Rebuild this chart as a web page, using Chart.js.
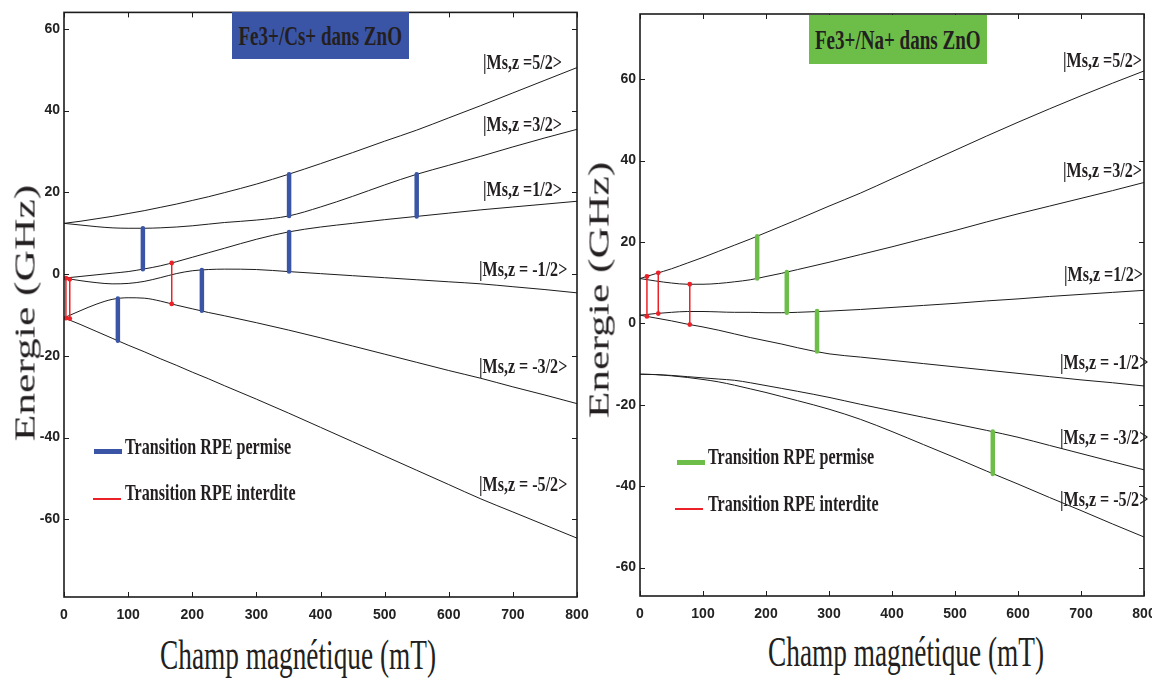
<!DOCTYPE html>
<html>
<head>
<meta charset="utf-8">
<script src="https://cdn.jsdelivr.net/npm/chart.js@4.4.0/dist/chart.umd.min.js"></script>
<style>
  html, body { margin:0; padding:0; background:#fff; width:1152px; height:679px; overflow:hidden; position:relative; }
  canvas { position:absolute; top:0; }
  #cvCs { left:0; }
  #cvNa { left:580px; }
  .serif { position:absolute; font-family:'Liberation Serif','Times New Roman',serif; color:#231f20; white-space:nowrap; }
  .lvl { font-weight:bold; font-size:22px; transform-origin:0 50%; transform:translateY(-50%) scaleX(0.73); }
  .leg { font-weight:bold; font-size:23px; transform-origin:0 50%; transform:translateY(-50%) scaleX(0.70); }
  .ytitle { font-size:29px; transform:translate(-50%,-50%) rotate(-90deg) scaleX(1.5); }
  .xtitle { font-size:42px; transform:translate(-50%,-50%) scaleX(0.65); }
  .tbox { position:absolute; display:flex; align-items:center; justify-content:center; }
  .tbox span { font-family:'Liberation Serif','Times New Roman',serif; font-weight:bold; font-size:28px; color:#231f20; transform:scaleX(0.68); white-space:nowrap; }
  .mark { position:absolute; }
</style>
</head>
<body>
<canvas id="cvCs" width="610" height="620"></canvas>
<canvas id="cvNa" width="600" height="620"></canvas>
<div id="overlay"></div>
<script>
// ===== Data =====
const field = [0, 25, 50, 75, 100, 125, 150, 175, 200, 225, 250, 300, 350, 400, 450, 500, 550, 600, 650, 700, 750, 800]; // mT
const xTicks = [0, 100, 200, 300, 400, 500, 600, 700, 800];
const yTicks = [-60, -40, -20, 0, 20, 40, 60];
const levelNames = ["|Ms,z =5/2>", "|Ms,z =3/2>", "|Ms,z =1/2>", "|Ms,z = -1/2>", "|Ms,z = -3/2>", "|Ms,z = -5/2>"];

// Fe3+/Cs+ (GHz)
const cs52  = [12.4, 12.9, 13.5, 14.1, 14.8, 15.5, 16.3, 17.1, 18.0, 18.9, 19.9, 22.0, 24.4, 27.0, 29.7, 32.5, 35.2, 38.2, 41.2, 44.3, 47.4, 50.5];
const cs32  = [12.4, 12.0, 11.6, 11.3, 11.2, 11.2, 11.3, 11.5, 11.8, 12.2, 12.6, 13.2, 14.2, 16.4, 19.0, 21.8, 24.4, 26.6, 28.8, 31.1, 33.3, 35.4];
const cs12  = [-1.0, -0.6, -0.2, 0.2, 0.6, 1.25, 2.0, 3.0, 4.1, 5.2, 6.3, 8.5, 10.3, 11.5, 12.4, 13.3, 14.1, 14.9, 15.7, 16.4, 17.1, 17.8];
const csM12 = [-1.0, -1.6, -2.1, -2.4, -2.3, -1.8, -0.9, 0.1, 0.8, 1.1, 1.2, 1.1, 0.6, 0.1, -0.4, -0.9, -1.4, -1.9, -2.4, -3.1, -3.8, -4.6];
const csM32 = [-10.7, -9.0, -7.4, -6.2, -5.8, -5.9, -6.6, -7.6, -8.5, -9.4, -10.2, -11.9, -13.7, -15.6, -17.6, -19.6, -21.6, -23.6, -25.5, -27.6, -29.6, -31.7];
const csM52 = [-10.7, -12.3, -14.0, -15.7, -17.4, -19.0, -20.7, -22.3, -24.0, -25.6, -27.3, -30.6, -34.0, -37.5, -41.0, -44.5, -48.0, -51.5, -55.0, -58.2, -61.4, -64.6];
const csAllowX   = [84, 123, 215, 351, 351, 550];
const csAllowTop = [-6.0, 11.2, 1.0, 24.4, 10.3, 24.4];
const csAllowBot = [-16.3, 1.2, -9.0, 14.2, 0.6, 14.1];
const csForbX    = [3, 9, 168];
const csForbTop  = [-1.0, -1.3, 2.7];
const csForbBot  = [-10.8, -10.9, -7.3];

// Fe3+/Na+ (GHz)
const na52  = [11.0, 12.2, 13.4, 14.8, 16.2, 17.7, 19.2, 20.7, 22.3, 23.9, 25.5, 28.8, 32.0, 35.5, 39.0, 42.5, 46.0, 49.4, 52.7, 55.9, 59.0, 62.0];
const na32  = [11.0, 10.4, 9.9, 9.6, 9.6, 9.8, 10.2, 10.7, 11.5, 12.3, 13.2, 15.0, 16.9, 18.8, 20.8, 22.8, 24.9, 26.9, 28.8, 30.7, 32.6, 34.6];
const na12  = [2.0, 2.4, 2.7, 2.9, 2.9, 2.8, 2.7, 2.7, 2.6, 2.6, 2.7, 3.0, 3.4, 3.9, 4.4, 4.9, 5.5, 6.0, 6.6, 7.1, 7.6, 8.1];
const naM12 = [2.0, 1.3, 0.6, -0.2, -0.9, -1.7, -2.6, -3.5, -4.3, -5.1, -6.0, -7.5, -8.3, -9.1, -9.9, -10.7, -11.5, -12.3, -13.1, -13.9, -14.6, -15.4];
const naM32 = [-12.5, -12.6, -12.8, -13.1, -13.4, -13.7, -14.0, -14.6, -15.3, -16.0, -16.7, -18.2, -19.9, -21.5, -23.1, -24.7, -26.3, -28.0, -30.0, -32.0, -34.0, -36.0];
const naM52 = [-12.5, -12.6, -12.9, -13.3, -13.8, -14.4, -15.2, -16.1, -17.0, -18.0, -19.0, -21.1, -23.6, -26.6, -29.8, -33.0, -36.3, -39.5, -42.8, -46.0, -49.3, -52.5];
const naAllowX   = [186, 233, 281, 560];
const naAllowTop = [21.4, 12.6, 3.0, -26.6];
const naAllowBot = [11.0, 2.6, -6.9, -37.0];
const naForbX    = [11, 29, 79];
const naForbTop  = [11.5, 12.4, 9.6];
const naForbBot  = [1.7, 2.4, -0.3];

// ===== Colours =====
const BLUE = "#3b55a6", GREEN = "#6dbe48", RED = "#ec2127", INK = "#1c1c1c";

// ===== helpers =====
function curve(vals) {
  return {
    data: field.map((x, i) => ({ x, y: vals[i] })),
    borderColor: INK, borderWidth: 1, pointRadius: 0,
    cubicInterpolationMode: "monotone", order: 2
  };
}
function bars(xs, top, bot, color, width, dots) {
  return xs.map((x, i) => ({
    data: [{ x, y: top[i] }, { x, y: bot[i] }],
    borderColor: color, borderWidth: width, borderCapStyle: "round",
    pointRadius: dots ? 2.4 : 0, pointBackgroundColor: color, pointBorderWidth: 0,
    tension: 0, order: 1
  }));
}

// frame + inward ticks on all four sides (matlab look)
const frame = {
  id: "frame",
  afterDatasetsDraw(chart) {
    const { ctx, chartArea: a, scales: { x, y } } = chart;
    ctx.save();
    ctx.strokeStyle = INK;
    ctx.lineWidth = 1.6;
    ctx.strokeRect(a.left, a.top, a.right - a.left, a.bottom - a.top);
    ctx.lineWidth = 1;
    ctx.beginPath();
    x.ticks.forEach(t => {
      const p = Math.round(x.getPixelForValue(t.value)) + 0.5;
      ctx.moveTo(p, a.bottom); ctx.lineTo(p, a.bottom - 5);
      ctx.moveTo(p, a.top); ctx.lineTo(p, a.top + 5);
    });
    y.ticks.forEach(t => {
      const p = Math.round(y.getPixelForValue(t.value)) + 0.5;
      ctx.moveTo(a.left, p); ctx.lineTo(a.left + 5, p);
      ctx.moveTo(a.right, p); ctx.lineTo(a.right - 5, p);
    });
    ctx.stroke();
    ctx.restore();
  }
};

const tickFont = { family: "'Liberation Sans Narrow', 'Arial Narrow', 'Liberation Sans', sans-serif", weight: "bold", size: 14 };

function makeChart(id, datasets, yMin, yMax, pad, yW, xH) {
  return new Chart(document.getElementById(id), {
    type: "line",
    data: { datasets },
    options: {
      responsive: false, animation: false, events: [],
      layout: { padding: pad },
      plugins: { legend: { display: false }, tooltip: { enabled: false } },
      scales: {
        x: {
          type: "linear", min: 0, max: 800,
          afterBuildTicks: s => { s.ticks = xTicks.map(v => ({ value: v })); },
          afterFit: s => { s.height = xH; },
          grid: { display: false, drawTicks: false }, border: { display: false },
          ticks: { font: tickFont, color: "#222", padding: 10, maxRotation: 0, autoSkip: false }
        },
        y: {
          type: "linear", min: yMin, max: yMax,
          afterBuildTicks: s => { s.ticks = yTicks.map(v => ({ value: v })); },
          afterFit: s => { s.width = yW; },
          grid: { display: false, drawTicks: false }, border: { display: false },
          ticks: { font: tickFont, color: "#222", padding: 4, autoSkip: false }
        }
      }
    },
    plugins: [frame]
  });
}

// ===== Charts =====
makeChart("cvCs", [
  ...bars(csAllowX, csAllowTop, csAllowBot, BLUE, 4.5, false),
  ...bars(csForbX, csForbTop, csForbBot, RED, 1.5, true),
  curve(cs52), curve(cs32), curve(cs12), curve(csM12), curve(csM32), curve(csM52)
], -79, 64, { top: 11, right: 33, bottom: 0, left: 0 }, 64, 23);

makeChart("cvNa", [
  ...bars(naAllowX, naAllowTop, naAllowBot, GREEN, 4.5, false),
  ...bars(naForbX, naForbTop, naForbBot, RED, 1.5, true),
  curve(na52), curve(na32), curve(na12), curve(naM12), curve(naM32), curve(naM52)
], -67, 76, { top: 14, right: 36, bottom: 0, left: 0 }, 60, 24);

// ===== Text overlay =====
const ov = document.getElementById("overlay");
function put(cls, text, left, top) {
  const d = document.createElement("div");
  d.className = "serif " + cls;
  d.textContent = text;
  d.style.left = left + "px";
  d.style.top = top + "px";
  ov.appendChild(d);
}
function box(text, color, l, t, w, h) {
  const d = document.createElement("div");
  d.className = "tbox";
  Object.assign(d.style, { left: l + "px", top: t + "px", width: w + "px", height: h + "px", background: color });
  const s = document.createElement("span");
  s.textContent = text;
  d.appendChild(s);
  ov.appendChild(d);
}
function mark(color, l, t, w, h) {
  const d = document.createElement("div");
  d.className = "mark";
  Object.assign(d.style, { left: l + "px", top: t + "px", width: w + "px", height: h + "px", background: color });
  ov.appendChild(d);
}

box("Fe3+/Cs+ dans ZnO", BLUE, 232, 12, 177, 47);
box("Fe3+/Na+ dans ZnO", GREEN, 809, 15, 178, 49);

const lvlLeftCs = [483, 483, 483, 479, 479, 479];
const lvlTopCs = [62, 124, 189, 269, 366, 484];
const lvlLeftNa = [1063, 1063, 1064, 1060, 1060, 1060];
const lvlTopNa = [60, 170, 274, 362, 437, 499];
levelNames.forEach((n, i) => {
  put("lvl", n, lvlLeftCs[i], lvlTopCs[i]);
  put("lvl", n, lvlLeftNa[i], lvlTopNa[i]);
});

mark(BLUE, 94, 449, 28, 5);
mark(RED, 93, 498, 28, 2);
put("leg", "Transition RPE permise", 125, 447);
put("leg", "Transition RPE interdite", 125, 493);
mark(GREEN, 677, 460, 28, 5);
mark(RED, 675, 508, 28, 2);
put("leg", "Transition RPE permise", 708, 457);
put("leg", "Transition RPE interdite", 708, 504);

put("ytitle", "Energie (GHz)", 25, 313);
put("ytitle", "Energie (GHz)", 599, 290);
put("xtitle", "Champ magnétique (mT)", 298, 655);
put("xtitle", "Champ magnétique (mT)", 906, 652);
</script>
</body>
</html>
